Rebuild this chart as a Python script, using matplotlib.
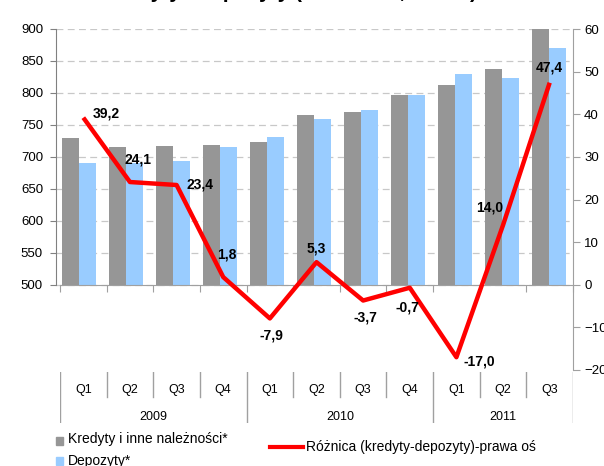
import matplotlib
matplotlib.use('Agg')
import matplotlib.pyplot as plt
from matplotlib.patches import Rectangle
from matplotlib.lines import Line2D

plt.rcParams['font.family'] = ['Liberation Sans', 'DejaVu Sans']

title = 'Kredyty i depozyty (zmiana r/r, mln zł)'
quarters = ['Q1', 'Q2', 'Q3', 'Q4', 'Q1', 'Q2', 'Q3', 'Q4', 'Q1', 'Q2', 'Q3']
years = ['2009', '2010', '2011']
year_spans = [4, 4, 3]
kredyty = [729, 715, 717, 718, 723, 766, 770, 796, 812, 837, 917]
depozyty = [690, 691, 693, 716, 731, 760, 774, 797, 829, 823, 870]
roznica = [39.2, 24.1, 23.4, 1.8, -7.9, 5.3, -3.7, -0.7, -17.0, 14.0, 47.4]
labels = ['39,2', '24,1', '23,4', '1,8', '-7,9', '5,3', '-3,7', '-0,7', '-17,0', '14,0', '47,4']
label_offsets = [(23, 4), (8, 23), (23, 1), (4, 23), (2, -17), (0, 14),
                 (2, -17), (-2, -20), (23, -4), (-13, 18), (0, 15)]
left_ticks = list(range(500, 901, 50))
right_ticks = list(range(-20, 61, 10))
leg_names = ['Kredyty i inne należności*', 'Depozyty*', 'Różnica (kredyty-depozyty)-prawa oś']

GRAY = '#969696'
BLUE = '#99ccff'
RED = '#ff0000'
AXC = '#a0a0a0'
BASE = 500

W, H = 604, 466
fig = plt.figure(figsize=(W / 100, H / 100), dpi=100)


def fr(x0, y0, x1, y1):
    return [x0 / W, 1 - y1 / H, (x1 - x0) / W, (y1 - y0) / H]


def px(x, y):
    return x / W, 1 - y / H


top, bot = 29, 370
ax = fig.add_axes(fr(55.5, top, 572.5, bot))
ax2 = fig.add_axes(fr(60, top, 573, bot))
ax3 = fig.add_axes(fr(60, 372, 573, 423))

n = len(quarters)
xs = [i + 0.5 for i in range(n)]
bw = 17 / 47

# bars (left axis), drawn up from 500
ax.bar([x - bw / 2 for x in xs], [v - BASE for v in kredyty], width=bw, color=GRAY, bottom=BASE, zorder=2)
ax.bar([x + bw / 2 for x in xs], [v - BASE for v in depozyty], width=bw, color=BLUE, bottom=BASE, zorder=2)
ax.set_xlim(0, n)
ax.set_ylim(BASE - 400 / 3, 900)
ax.set_yticks(left_ticks)
ax.set_axisbelow(True)
ax.yaxis.grid(True, linestyle=(0, (5.5, 3.5)), color='#c8c8c8', linewidth=0.9)
ax.set_xticks([])
for s in ['top', 'right', 'bottom']:
    ax.spines[s].set_visible(False)
ax.spines['left'].set_bounds(500, 900)
ax.spines['left'].set_color('#808080')
ax.tick_params(axis='y', direction='out', length=4, color='#808080', labelsize=9.5, pad=5)
ax.patch.set_visible(False)

# line (right axis)
ax2.patch.set_visible(False)
ax2.plot(xs, roznica, color=RED, linewidth=3.2, solid_joinstyle='round', solid_capstyle='butt', zorder=3)
ax2.set_xlim(0, n)
ax2.set_ylim(-20, 60)
ax2.yaxis.tick_right()
ax2.set_yticks(right_ticks)
ax2.set_xticks(range(n + 1))
ax2.set_xticklabels([])
for s in ['top', 'left']:
    ax2.spines[s].set_visible(False)
ax2.spines['right'].set_color(AXC)
ax2.spines['bottom'].set_position(('data', 0))
ax2.spines['bottom'].set_color(AXC)
ax2.tick_params(axis='y', direction='out', length=5, color=AXC, labelsize=9.5, pad=3)
ax2.tick_params(axis='x', direction='out', length=5, color=AXC)
for x, v, t, (dx, dy) in zip(xs, roznica, labels, label_offsets):
    ax2.annotate(t, (x, v), xytext=(dx, dy), textcoords='offset pixels',
                 ha='center', va='center', fontsize=10, fontweight='bold', zorder=5)

# category table
ax3.axis('off')
ax3.set_xlim(0, n)
ax3.set_ylim(0, 1)
qsep = (423 - 397) / 51
yb = [0]
for sp in year_spans:
    yb.append(yb[-1] + sp)
for i in range(n + 1):
    y0 = 0 if i in yb else qsep
    ax3.add_line(Line2D([i, i], [y0, 1], color=AXC, linewidth=1))
for x, q in zip(xs, quarters):
    ax3.text(x, (423 - 390) / 51, q, ha='center', va='center', fontsize=9)
for a, b, yname in zip(yb[:-1], yb[1:], years):
    ax3.text((a + b) / 2, (423 - 416.5) / 51, yname, ha='center', va='center', fontsize=9)

# legend (manual)
x0, y0 = px(56, 445)
fig.patches.append(Rectangle((x0, y0), 7 / W, 8 / H, transform=fig.transFigure, color=GRAY))
x0, y0 = px(56, 465)
fig.patches.append(Rectangle((x0, y0), 7 / W, 8 / H, transform=fig.transFigure, color=BLUE))
fig.text(*px(68, 439.5), leg_names[0], ha='left', va='center', fontsize=10)
fig.text(*px(68, 461), leg_names[1], ha='left', va='center', fontsize=10)
fig.lines.append(Line2D([270 / W, 303 / W], [1 - 446.5 / H, 1 - 446.5 / H], transform=fig.transFigure,
                        color=RED, linewidth=3))
fig.text(*px(306, 447), leg_names[2], ha='left', va='center', fontsize=10)

# title (cut off at the top)
fig.text(*px(290, -1.5), title, ha='center', va='baseline', fontsize=15, fontweight='bold')

fig.savefig('out.png', dpi=100)
